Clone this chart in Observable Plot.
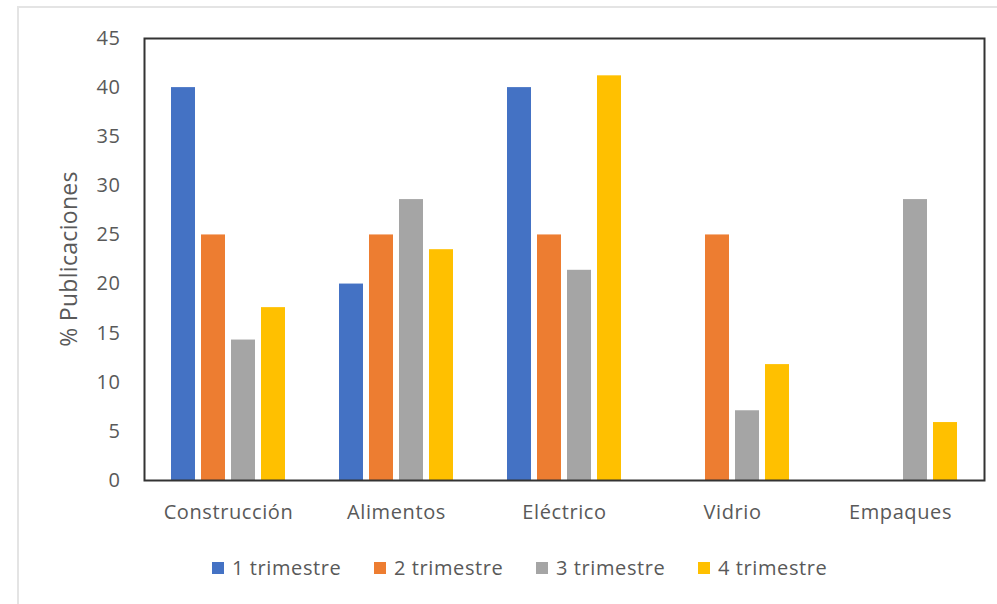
<!DOCTYPE html>
<html>
<head>
<meta charset="utf-8">
<script src="https://cdn.jsdelivr.net/npm/d3@7"></script>
<script src="https://cdn.jsdelivr.net/npm/@observablehq/plot@0.6"></script>
<style>
  html, body { margin: 0; padding: 0; background: #fff; }
  body { width: 997px; height: 604px; position: relative; overflow: hidden; font-family: "Open Sans", sans-serif; }
  #frame { position: absolute; left: 17px; top: 6px; width: 1000px; height: 700px; border-left: 2px solid #e4e4e4; border-top: 2px solid #e4e4e4; }
  #chart { position: absolute; left: 0; top: 0; }
  #legend { position: absolute; left: 212px; top: 554px; display: flex; font-size: 20px; letter-spacing: 0.6px; color: #595959; }
  .item { display: flex; align-items: center; width: 162px; white-space: nowrap; }
  .sw { width: 12px; height: 12px; margin-right: 8px; }
</style>
</head>
<body>
<div id="frame"></div>
<div id="chart"></div>
<div id="legend"></div>
<script>
const categories = ["Construcción", "Alimentos", "Eléctrico", "Vidrio", "Empaques"];
const series = ["1 trimestre", "2 trimestre", "3 trimestre", "4 trimestre"];
const trimestre1 = [40, 20, 40, null, null];
const trimestre2 = [25, 25, 25, 25, null];
const trimestre3 = [14.3, 28.6, 21.4, 7.1, 28.6];
const trimestre4 = [17.6, 23.5, 41.2, 11.8, 5.9];
const yTicks = [0, 5, 10, 15, 20, 25, 30, 35, 40, 45];
const colors = ["#4472C4", "#ED7D31", "#A5A5A5", "#FFC000"];

const seriesValues = [trimestre1, trimestre2, trimestre3, trimestre4];
const data = [];
categories.forEach((c, i) => {
  series.forEach((s, j) => {
    const v = seriesValues[j][i];
    if (v != null) data.push({cat: c, series: s, value: v});
  });
});

const textColor = "#595959";
const plot = Plot.plot({
  width: 997,
  height: 540,
  marginLeft: 143,
  marginRight: 12,
  marginTop: 38,
  marginBottom: 60,
  style: {fontFamily: "Open Sans, sans-serif", background: "transparent", letterSpacing: "0.6px"},
  fx: {domain: categories, padding: 0, label: null},
  x: {domain: series, paddingInner: 0.21, paddingOuter: 0.87, axis: null},
  y: {domain: [0, 45], label: null},
  color: {domain: series, range: colors},
  marks: [
    Plot.barY(data, {fx: "cat", x: "series", y: "value", fill: "series"}),
    Plot.axisY({ticks: yTicks, tickSize: 0, tickPadding: 24, fontSize: 20, fill: textColor, label: null}),
    Plot.axisFx({anchor: "bottom", tickSize: 0, tickPadding: 24, fontSize: 20, fill: textColor, label: null}),
    Plot.frame({facet: "super", stroke: "#333", strokeWidth: 2})
  ]
});
document.getElementById("chart").appendChild(plot);

// y-axis title
const svg = d3.select(plot);
svg.append("text")
  .attr("transform", `translate(71, ${(38 + 480) / 2}) rotate(-90)`)
  .attr("text-anchor", "middle")
  .attr("dominant-baseline", "middle")
  .attr("fill", textColor)
  .attr("font-size", 23)
  .attr("letter-spacing", "0.3px")
  .attr("font-family", "Open Sans, sans-serif")
  .text("% Publicaciones");

const legend = d3.select("#legend");
series.forEach((s, i) => {
  const it = legend.append("div").attr("class", "item");
  it.append("div").attr("class", "sw").style("background", colors[i]);
  it.append("span").text(s);
});
</script>
</body>
</html>
